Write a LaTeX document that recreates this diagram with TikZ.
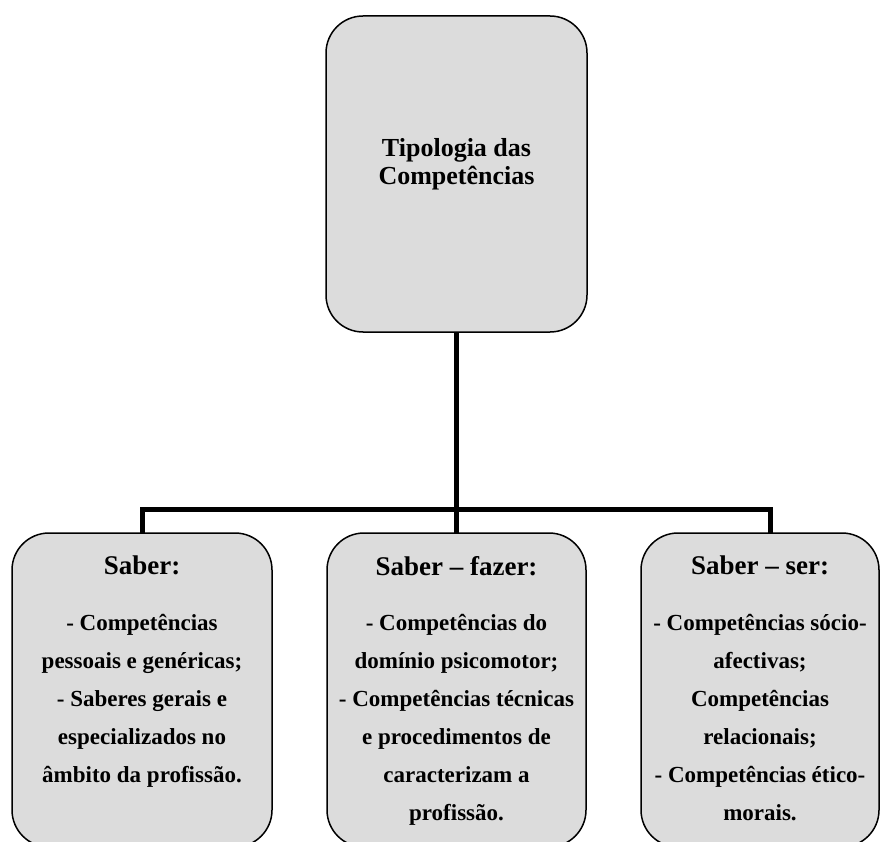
\documentclass[tikz,border=0pt]{standalone}
\usepackage{fontspec}
\setmainfont{Liberation Serif}
\begin{document}
\begin{tikzpicture}[x=1pt,y=-1pt,
  box/.style={draw=black, line width=1.5pt, fill=boxgray, rounded corners=37pt,
    inner sep=0pt, minimum height=314pt},
  link/.style={line width=5pt, draw=black},
  title/.style={font=\bfseries\fontsize{26}{28.5}\selectfont, align=center, inner sep=0pt, anchor=north},
  head/.style={font=\bfseries\fontsize{27}{30}\selectfont, align=center, inner sep=0pt, anchor=north},
  body/.style={font=\bfseries\fontsize{23}{38}\selectfont, align=center, inner sep=0pt, anchor=north}]
\definecolor{boxgray}{RGB}{220,220,220}
\useasboundingbox (0,0) rectangle (888,842);

% connectors, drawn first so the boxes cover their ends
\coordinate (bus) at (456.5,509.5);
\coordinate (rdrop) at (770,534);
\coordinate (ldrop) at (142,534);
\coordinate (mtop) at (456.5,534);
\coordinate (tbot) at (456.5,331);
\draw[link] (tbot) -- (mtop);
\draw[link] (ldrop) |- (bus) -| (rdrop);

% boxes
\node[box, minimum width=261pt, minimum height=316pt] (top) at (456.5,174) {};
\node[box, minimum width=260pt] (lbox) at (142,690) {};
\node[box, minimum width=259pt] (mbox) at (456.5,690) {};
\node[box, minimum width=238pt] (rbox) at (760,690) {};

% texts
\node[title] (ttl) at (456.5,138) {Tipologia das\\Competências};

\node[head] (lh) at (142,556) {Saber:};
\node[head] (mh) at (456.5,556) {Saber – fazer:};
\node[head] (rh) at (760,556) {Saber – ser:};

\node[body] (lt) at (142,614) {- Competências\\pessoais e genéricas;\\- Saberes gerais e\\especializados no\\âmbito da profissão.};
\node[body] (mt) at (456.5,614) {- Competências do\\domínio psicomotor;\\- Competências técnicas\\e procedimentos de\\caracterizam a\\profissão.};
\node[body] (rt) at (760,614) {- Competências sócio-\\afectivas;\\Competências\\relacionais;\\- Competências ético-\\morais.};
\end{tikzpicture}
\end{document}
